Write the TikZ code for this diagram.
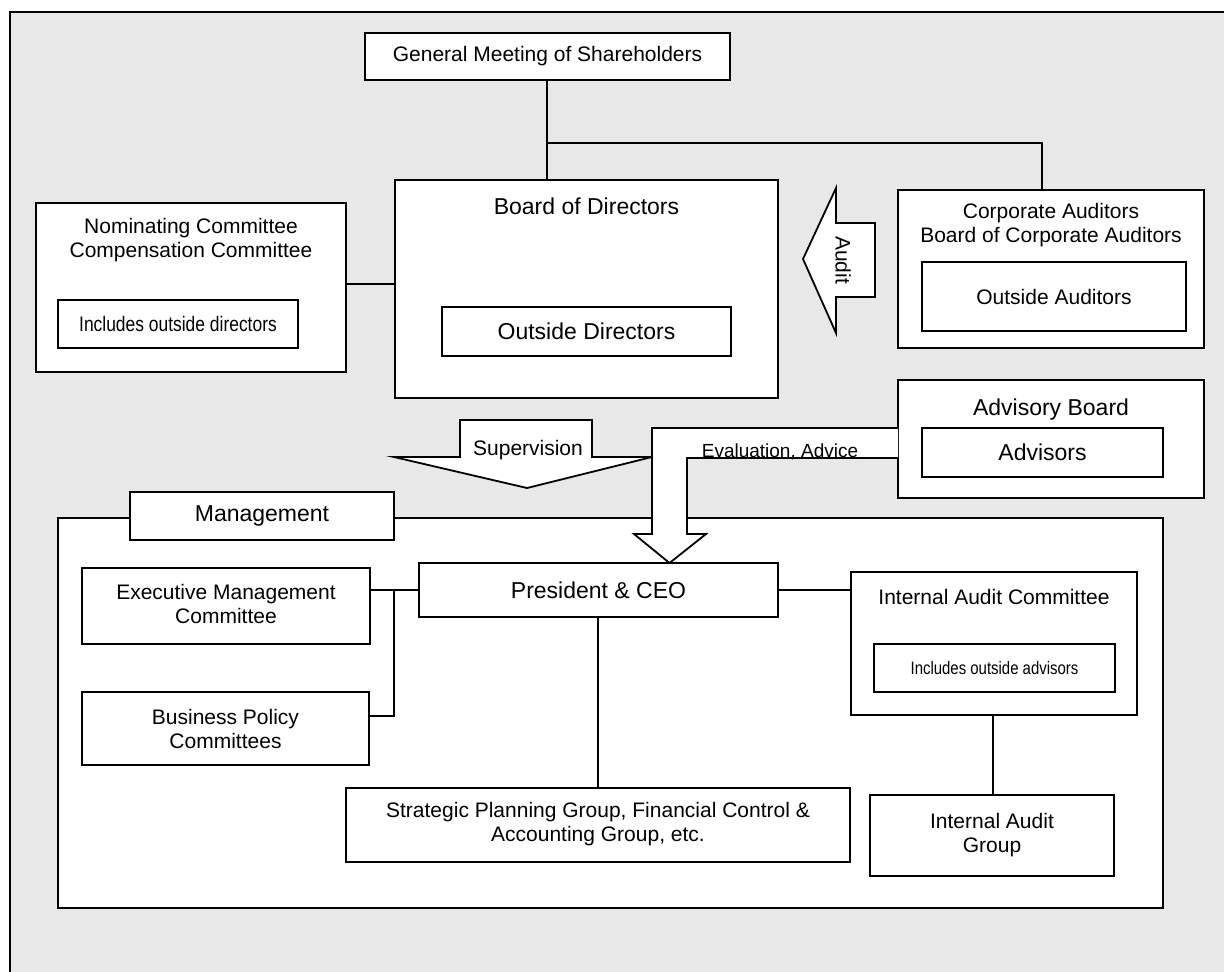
\documentclass[tikz,border=0pt]{standalone}
\usepackage{fontspec}
\setmainfont{Liberation Sans}
\newfontfamily\narrowfont[FakeStretch=0.83]{Liberation Sans}
\definecolor{panel}{HTML}{E8E8E8}
\begin{document}
\begin{tikzpicture}[x=1pt,y=-1pt,
  line width=1.8pt,
  box/.style={draw=black, fill=white, line width=1.8pt, inner sep=0pt, outer sep=0pt},
  txt/.style={inner sep=0pt, align=center, font=\fontsize{21}{24}\selectfont},
  bigtxt/.style={inner sep=0pt, align=center, font=\fontsize{23}{26}\selectfont},
  narrowtxt/.style={inner sep=0pt, align=center, font=\narrowfont\fontsize{21}{24}\selectfont},
  smallnarrow/.style={inner sep=0pt, align=center, font=\narrowfont\fontsize{18}{21}\selectfont},
  arrowshape/.style={draw=black, fill=white, line width=1.8pt, line join=miter},
  link/.style={draw=black, line width=1.8pt}]

\useasboundingbox (0,0) rectangle (1224,972);

% grey panel with its frame
\fill[panel] (10,12) rectangle (1224,972);
\draw[line width=2.2pt] (10,972) -- (10,12) -- (1224,12);

% ---- governance level ----
\node[box, minimum width=365pt, minimum height=47pt] (gms) at (547.5,56.5) {};
\node[txt] (gmst) at (547.5,56.5) {General Meeting of Shareholders};

\node[box, minimum width=383pt, minimum height=218pt] (bod) at (586.5,289) {};
\node[bigtxt] (bodt) at (586.5,206) {Board of Directors};
\node[box, minimum width=289pt, minimum height=49pt] (outdir) at (586.5,331.5) {};
\node[bigtxt] (outdirt) at (586.5,331.5) {Outside Directors};

\node[box, minimum width=310pt, minimum height=169pt] (nom) at (191,287.5) {};
\node[txt] (nomt) at (191,240) {Nominating Committee\\Compensation Committee};
\node[box, minimum width=240pt, minimum height=48pt] (incdir) at (178,324) {};
\node[narrowtxt] (incdirt) at (178,324) {Includes outside directors};

\node[box, minimum width=306pt, minimum height=158pt] (corp) at (1051,269) {};
\node[txt] (corpt) at (1051,225) {Corporate Auditors\\Board of Corporate Auditors};
\node[box, minimum width=264pt, minimum height=69pt] (outaud) at (1054,296.5) {};
\node[txt] (outaudt) at (1054,296.5) {Outside Auditors};

% connectors between governance bodies
\coordinate (split) at (547,143);
\coordinate (corpin) at (1042,190);
\draw[link] (gms.south -| split) -- (bod.north -| split);
\draw[link] (split) -| (corpin);
\draw[link] ([yshift=3.5pt]nom.east) -- ([yshift=3.5pt]nom.east -| bod.west);

% audit arrow
\draw[arrowshape] (803,259) -- (836,188) -- (836,223) -- (875,223) -- (875,297)
  -- (836,297) -- (836,333) -- cycle;
\node[txt, rotate=-90] (auditt) at (843,260) {Audit};

% ---- management ----
\node[box, minimum width=1105pt, minimum height=390pt] (mgmt) at (610.5,713) {};
\node[box, minimum width=264pt, minimum height=48pt] (mgmttab) at (262,516) {};
\node[bigtxt] (mgmtt) at (262,516) {Management};

% supervision arrow
\draw[arrowshape] (460,420) -- (592,420) -- (592,457) -- (652,457) -- (527,488)
  -- (394,457) -- (460,457) -- cycle;
\node[txt] (supt) at (528,450) {Supervision};

% advisory board
\node[box, minimum width=306pt, minimum height=118pt] (adv) at (1051,439) {};
\node[bigtxt] (advt) at (1051,410) {Advisory Board};
\node[box, minimum width=241pt, minimum height=49pt] (advisors) at (1042.5,452.5) {};
\node[bigtxt] (advisorst) at (1042.5,452.5) {Advisors};

\node[box, minimum width=359pt, minimum height=54pt] (pres) at (598.5,590) {};
\node[bigtxt] (prest) at (598.5,590) {President \& CEO};

% evaluation and advice arrow from the advisory board
\fill[white] (898,428) -- (652,428) -- (652,534) -- (634,534) -- (669.5,563)
  -- (706,534) -- (687,534) -- (687,458) -- (898,458) -- cycle;
\draw[line width=1.8pt, line join=miter] (adv.west |- 0,428) -- (652,428) -- (652,534) -- (634,534)
  -- (669.5,563) -- (706,534) -- (687,534) -- (687,458) -- (adv.west |- 0,458);
\node[inner sep=0pt, font=\fontsize{19}{22}\selectfont, anchor=base] (evalt) at (780,457) {Evaluation, Advice};

\node[box, minimum width=288pt, minimum height=76pt] (exec) at (226,606) {};
\node[txt] (exect) at (226,604) {Executive Management\\Committee};
\node[box, minimum width=287pt, minimum height=73pt] (bpc) at (225.5,728.5) {};
\node[txt] (bpct) at (225.5,728.5) {Business Policy\\Committees};
\node[box, minimum width=504pt, minimum height=74pt] (strat) at (598,825) {};
\node[txt] (stratt) at (598,824) {Strategic Planning Group, Financial Control \&\\Accounting Group, etc.};

\node[box, minimum width=286pt, minimum height=143pt] (iac) at (994,643.5) {};
\node[txt] (iact) at (994,597) {Internal Audit Committee};
\node[box, minimum width=241pt, minimum height=48pt] (incadv) at (994.5,668) {};
\node[smallnarrow] (incadvt) at (994.5,668) {Includes outside advisors};
\node[box, minimum width=244pt, minimum height=81pt] (iag) at (992,835.5) {};
\node[txt] (iagt) at (992,835.5) {Internal Audit\\Group};

% management connectors
\coordinate (tee) at (394,590);
\coordinate (down) at (598,0);
\draw[link] (pres.west) -- (pres.west -| exec.east);
\draw[link] (tee) |- ([yshift=12.5pt]bpc.east);
\draw[link] (pres.south -| down) -- (strat.north -| down);
\draw[link] (pres.east) -- (pres.east -| iac.west);
\draw[link] (iac.south -| 993,0) -- (iag.north -| 993,0);

\end{tikzpicture}
\end{document}
